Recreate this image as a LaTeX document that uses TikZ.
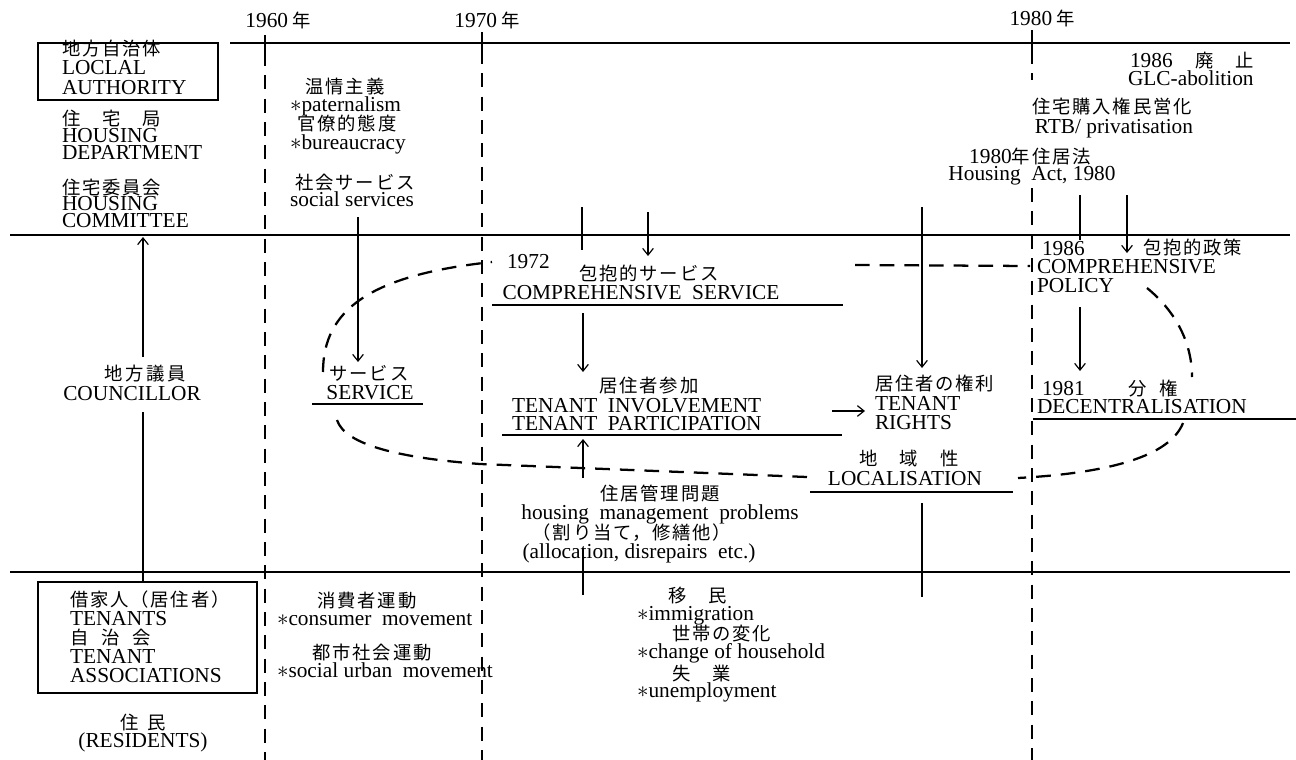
\documentclass[tikz,border=0pt]{standalone}
\usepackage{fontspec}
\setmainfont{Liberation Serif}
\newfontfamily\jpfont{Noto Sans CJK JP}[Scale=0.86,LetterSpace=10]
\usetikzlibrary{arrows.meta}
\newcommand\J[1]{{\jpfont #1}}
\begin{document}
\begin{tikzpicture}[x=0.75pt,y=-0.75pt,
  every node/.style={inner sep=0pt,outer sep=0pt,font=\fontsize{16}{17}\selectfont},
  L/.style={anchor=base west},
  C/.style={anchor=base},
  thinline/.style={line width=0.9pt},
  mainline/.style={line width=1.1pt},
  uline/.style={line width=1.8pt},
  yearline/.style={line width=0.9pt,dash pattern=on 10.5pt off 7pt},
  loopline/.style={line width=1.7pt,dash pattern=on 11pt off 7.5pt},
  arr/.style={thinline,-{Straight Barb[length=5pt,width=8pt]}},
  frame/.style={line width=2pt}]
\useasboundingbox (0,0) rectangle (1296,760);
\fill[white] (0,0) rectangle (1296,760);

% ---------- main horizontal lines
\coordinate (h1a) at (230,43);  \coordinate (h1b) at (1290,43);
\coordinate (h2a) at (10,235);  \coordinate (h2b) at (1290,235);
\coordinate (h3a) at (10,572);  \coordinate (h3b) at (1290,572);
\draw[mainline] (h1a) -- (h1b);
\draw[mainline] (h2a) -- (h2b);
\draw[mainline] (h3a) -- (h3b);

% ---------- year lines
\node[C] (y60) at (278,27) {1960\hspace{3pt}\J{年}};
\node[C] (y70) at (487,27) {1970\hspace{3pt}\J{年}};
\node[C] (y80) at (1042,25) {1980\hspace{3pt}\J{年}};
\coordinate (y60t) at (265,35); \coordinate (y60m) at (265,52); \coordinate (y60b) at (265,760);
\coordinate (y70t) at (482,32); \coordinate (y70m) at (482,50); \coordinate (y70b) at (482,760);
\coordinate (y80t) at (1032,30); \coordinate (y80m) at (1032,50); \coordinate (y80n) at (1032,80);
\coordinate (y80o) at (1032,188); \coordinate (y80b) at (1032,760);
\draw[thinline] (y60t) -- (y60m);
\draw[thinline] (y70t) -- (y70m);
\draw[thinline] (y80t) -- (y80m);
\draw[yearline] (y60m) -- (y60b);
\draw[yearline] (y70m) -- (y70b);
\draw[yearline] (y80m) -- (y80n);
\draw[yearline] (y80o) -- (y80b);

% ---------- left column
\coordinate (boxA1) at (38,43); \coordinate (boxA2) at (218,100);
\draw[frame] (boxA1) rectangle (boxA2);
\node[L] (la1) at (62,55) {\J{地方自治体}};
\node[L] (la2) at (62,74) {LOCLAL};
\node[L] (la3) at (62,94) {AUTHORITY};
\node[L] (hd1) at (62,125) {\J{住　宅　局}};
\node[L] (hd2) at (62,142) {HOUSING};
\node[L] (hd3) at (62,159) {DEPARTMENT};
\node[L] (hc1) at (62,194) {\J{住宅委員会}};
\node[L] (hc2) at (62,210) {HOUSING};
\node[L] (hc3) at (62,227) {COMMITTEE};

\node[C] (co1) at (145,380) {\J{地\hspace{2pt}方\hspace{2pt}議\hspace{2pt}員}};
\node[C] (co2) at (132,400) {COUNCILLOR};
\coordinate (ca1) at (143,357); \coordinate (ca2) at (143,237);
\coordinate (cb1) at (143,412); \coordinate (cb2) at (143,582);
\draw[arr] (ca1) -- (ca2);
\draw[thinline] (cb1) -- (cb2);

\coordinate (boxB1) at (38,582); \coordinate (boxB2) at (257,693);
\draw[frame] (boxB1) rectangle (boxB2);
\node[L] (tn1) at (70,606) {\J{借家人（居住者）}};
\node[L] (tn2) at (70,625) {TENANTS};
\node[L] (tn3) at (70,644) {\J{自\hspace{9.5pt}治\hspace{9.5pt}会}};
\node[L] (tn4) at (70,663) {TENANT};
\node[L] (tn5) at (70,682) {ASSOCIATIONS};
\node[C] (rs1) at (143,729) {\J{住}\hspace{6pt}\J{民}};
\node[C] (rs2) at (143,747) {(RESIDENTS)};

% ---------- 1960s
\node[C] (p1) at (345,93) {\J{温情主義}};
\node[L] (p2) at (290,111) {$\ast$paternalism};
\node[C] (p3) at (347,130) {\J{官僚的態度}};
\node[L] (p4) at (290,149) {$\ast$bureaucracy};
\node[C] (p5) at (355,189) {\J{社会サービス}};
\node[C] (p6) at (352,206) {social services};
\coordinate (sa1) at (358,217); \coordinate (sa2) at (358,362);
\draw[arr] (sa1) -- (sa2);
\node[C] (sv1) at (369,380) {\J{サービス}};
\node[C] (sv2) at (370,399) {SERVICE};
\coordinate (su1) at (312,404); \coordinate (su2) at (423,404);
\draw[uline] (su1) -- (su2);

\node[C] (m1) at (367,607) {\J{消費者運動}};
\node[L] (m2) at (277,625) {$\ast$consumer\ \ movement};
\node[C] (m3) at (372,659) {\J{都市社会運動}};
\node[L] (m4) at (277,677) {$\ast$social urban\ \ movement};

% ---------- 1970s
\node[L] (d72) at (507,268) {1972};
\node[C] (cs1) at (649,280) {\J{包抱的サービス}};
\node[C] (cs2) at (641,299) {COMPREHENSIVE\ \ SERVICE};
\coordinate (csu1) at (492,305); \coordinate (csu2) at (843,305);
\draw[uline] (csu1) -- (csu2);
\coordinate (k1) at (582,207); \coordinate (k2) at (582,250);
\draw[thinline] (k1) -- (k2);
\coordinate (k3) at (648,212); \coordinate (k4) at (648,256);
\draw[arr] (k3) -- (k4);
\coordinate (k5) at (583,313); \coordinate (k6) at (583,372);
\draw[arr] (k5) -- (k6);
\node[C] (ti1) at (649,392) {\J{居住者参加}};
\node[L] (ti2) at (512,412) {TENANT\ \ INVOLVEMENT};
\node[L] (ti3) at (512,430) {TENANT\ \ PARTICIPATION};
\coordinate (tiu1) at (502,435); \coordinate (tiu2) at (842,435);
\draw[uline] (tiu1) -- (tiu2);
\coordinate (k7) at (583,478); \coordinate (k8) at (583,439);
\draw[arr] (k7) -- (k8);
\node[C] (hm1) at (660,500) {\J{住居管理問題}};
\node[C] (hm2) at (660,519) {housing\ \ management\ \ problems};
\node[C] (hm3) at (632,539) {\J{（割り当て，修繕他）}};
\node[C] (hm4) at (639,558) {(allocation, disrepairs\ \ etc.)};
\coordinate (k9) at (583,548); \coordinate (k10) at (583,595);
\draw[thinline] (k9) -- (k10);

\node[L] (im1) at (668,602) {\J{移　民}};
\node[L] (im2) at (637,620) {$\ast$immigration};
\node[L] (im3) at (672,640) {\J{世帯の変化}};
\node[L] (im4) at (637,658) {$\ast$change of household};
\node[L] (im5) at (672,680) {\J{失　業}};
\node[L] (im6) at (637,697) {$\ast$unemployment};

% ---------- tenant rights / localisation
\coordinate (r1) at (922,207); \coordinate (r2) at (922,368);
\draw[arr] (r1) -- (r2);
\node[L] (tr1) at (875,390) {\J{居住者の権利}};
\node[L] (tr2) at (875,410) {TENANT};
\node[L] (tr3) at (875,429) {RIGHTS};
\coordinate (ra1) at (832,411); \coordinate (ra2) at (865,411);
\draw[arr] (ra1) -- (ra2);
\node[C] (lo1) at (909,465) {\J{地　域　性}};
\node[C] (lo2) at (905,485) {LOCALISATION};
\coordinate (lou1) at (810,492); \coordinate (lou2) at (1013,492);
\draw[uline] (lou1) -- (lou2);
\coordinate (r3) at (922,503); \coordinate (r4) at (922,597);
\draw[thinline] (r3) -- (r4);

% ---------- 1980s
\node[L] (gl1) at (1130,67) {1986\hspace{17pt}\J{廃　止}};
\node[L] (gl2) at (1128,85) {GLC-abolition};
\node[C] (rtb1) at (1112,113) {\J{住宅購入権民営化}};
\node[C] (rtb2) at (1114,133) {RTB/ privatisation};
\node[C] (ha1) at (1030,163) {1980\J{年住居法}};
\node[C] (ha2) at (1032,180) {Housing\ \ Act, 1980};
\coordinate (q1) at (1080,195); \coordinate (q2) at (1080,240);
\draw[thinline] (q1) -- (q2);
\coordinate (q3) at (1127,195); \coordinate (q4) at (1127,253);
\draw[arr] (q3) -- (q4);
\node[L] (cp0) at (1042,255) {1986};
\node[L] (cp1) at (1143,254) {\J{包抱的政策}};
\node[L] (cp2) at (1037,273) {COMPREHENSIVE};
\node[L] (cp3) at (1037,292) {POLICY};
\coordinate (q5) at (1080,307); \coordinate (q6) at (1080,371);
\draw[arr] (q5) -- (q6);
\node[L] (dc1) at (1042,395) {1981\hspace{33pt}\J{分}\hspace{9pt}\J{権}};
\node[L] (dc2) at (1037,413) {DECENTRALISATION};
\coordinate (dcu1) at (1033,419); \coordinate (dcu2) at (1296,419);
\draw[uline] (dcu1) -- (dcu2);

% ---------- dashed loop
\draw[loopline] (323,372) .. controls (323,310) and (370,275) .. (492,262);
\draw[loopline] (855,265) -- (1030,266);
\draw[loopline] (1147,288) .. controls (1168,305) and (1192,335) .. (1192,377);
\draw[loopline] (1183,423) .. controls (1170,456) and (1110,473) .. (1018,478);
\draw[loopline] (807,477) -- (480,464) .. controls (400,458) and (345,445) .. (337,420);
\end{tikzpicture}
\end{document}
